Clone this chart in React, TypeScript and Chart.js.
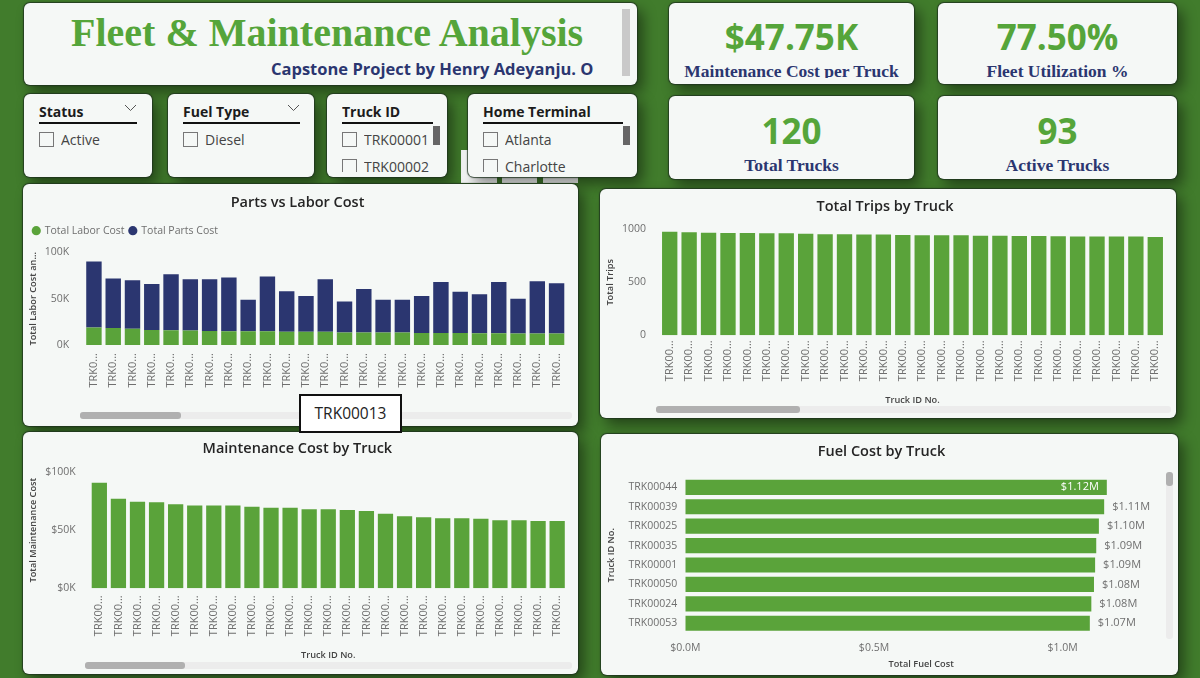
import React, { useEffect, useRef } from "react";
import { Chart, registerables } from "chart.js";

Chart.register(...registerables);

const GREEN = "#5aa33a";
const NAVY = "#2b3670";
const CARD = "#f5f8f6";
const UI = '"Open Sans", sans-serif';
const SERIF = '"Liberation Serif", serif';
const GRAY = "#6f6f6f";

const laborCost = [18.8, 18.4, 17.7, 16.3, 16, 15.6, 15.2, 15, 14.8, 14.8, 14.2, 14.2, 14.2, 13.5, 13.5, 13.5, 13.5, 13.1, 13.1, 13.1, 12.8, 12.8, 12.4, 12.4, 12.4];
const partsCost = [71.6, 53.6, 52.3, 49.7, 60.6, 55.4, 55.8, 58, 34.2, 59.2, 43.8, 38.8, 56.8, 33.5, 47.1, 35.5, 35.5, 39.9, 54.9, 44.4, 42.2, 55.2, 37.6, 56.6, 54.3];
const totalTrips = [978, 972, 968, 965, 965, 962, 962, 959, 953, 953, 950, 950, 947, 943, 943, 943, 940, 940, 937, 937, 934, 931, 931, 931, 931, 928];
const maintenanceCost = [90.8, 77, 74.5, 73.9, 72.2, 71.3, 71.3, 71.3, 70.2, 69.3, 69.3, 67.9, 67.9, 67.3, 66.5, 64.2, 61.9, 61, 60.2, 60.2, 59.9, 58.5, 58.5, 57.9, 57.9];
const fuelTrucks = ["TRK00044", "TRK00039", "TRK00025", "TRK00035", "TRK00001", "TRK00050", "TRK00024", "TRK00053"];
const fuelCost = [1.117, 1.11, 1.096, 1.089, 1.086, 1.083, 1.076, 1.072];
const partsLabels = laborCost.map(() => "TRK0...");
const tripLabels = totalTrips.map(() => "TRK00...");
const maintLabels = maintenanceCost.map(() => "TRK00...");

function yWidth(w: number) {
  return (s: any) => {
    s.width = w;
  };
}
function xHeight(h: number) {
  return (s: any) => {
    s.height = h;
  };
}

const titleOpts = (text: string, top: number, bottom: number) => ({
  display: true,
  text,
  color: "#252525",
  font: { family: UI, size: 14.5, weight: "600" as any },
  padding: { top, bottom },
});
const axisTitle = (text: string) => ({
  display: true,
  text,
  color: "#444",
  padding: 0,
  font: { family: UI, size: 9.2, weight: "600" as any },
});
const tickFont = { family: UI, size: 10.5 };
const noGrid = { display: false, drawTicks: false };

const legendGap = {
  id: "legendGap",
  beforeInit(chart: any) {
    const lg = chart.legend;
    if (!lg) return;
    const orig = lg.fit;
    lg.fit = function () {
      orig.call(lg);
      lg.height += 6.6;
    };
  },
};

const fuelLabels = {
  id: "fuelLabels",
  afterDatasetsDraw(chart: any) {
    const ctx = chart.ctx;
    const meta = chart.getDatasetMeta(0);
    ctx.save();
    ctx.font = `11px ${UI}`;
    ctx.textBaseline = "middle";
    meta.data.forEach((bar: any, i: number) => {
      const t = `$${fuelCost[i].toFixed(2)}M`;
      if (i === 0) {
        ctx.fillStyle = "#ffffff";
        ctx.textAlign = "right";
        ctx.fillText(t, bar.x - 8, bar.y);
      } else {
        ctx.fillStyle = GRAY;
        ctx.textAlign = "left";
        ctx.fillText(t, bar.x + 8, bar.y);
      }
    });
    ctx.restore();
  },
};

function useChart(build: (c: HTMLCanvasElement) => Chart) {
  const ref = useRef<HTMLCanvasElement | null>(null);
  useEffect(() => {
    const ch = build(ref.current as HTMLCanvasElement);
    return () => ch.destroy();
  }, []);
  return ref;
}

const xCat = (h: number, pad: number, title?: string) => ({
  afterFit: xHeight(h),
  grid: noGrid,
  border: { display: false },
  title: title ? axisTitle(title) : { display: false },
  ticks: { autoSkip: false, minRotation: 90, maxRotation: 90, padding: pad, color: GRAY, font: { family: UI, size: 11 } },
});
const yVal = (w: number, pad: number, max: number, step: number, title: string, cb: (v: number) => string) => ({
  afterFit: yWidth(w),
  min: 0,
  max,
  grid: noGrid,
  border: { display: false },
  title: axisTitle(title),
  ticks: { stepSize: step, padding: pad, color: GRAY, font: tickFont, callback: (v: any) => cb(Number(v)) },
});

function PartsChart() {
  const ref = useChart(
    (c) =>
      new Chart(c, {
        type: "bar",
        data: {
          labels: partsLabels,
          datasets: [
            { label: "Total Labor Cost", data: laborCost, backgroundColor: GREEN, barPercentage: 1, categoryPercentage: 0.8 },
            { label: "Total Parts Cost", data: partsCost, backgroundColor: NAVY, barPercentage: 1, categoryPercentage: 0.8 },
          ],
        },
        options: {
          responsive: false,
          animation: false,
          layout: { padding: { left: 5, right: 11, top: 0, bottom: 0 } },
          plugins: {
            title: titleOpts("Parts vs Labor Cost", 10, 9),
            tooltip: { enabled: false },
            legend: {
              display: true,
              position: "top",
              align: "start",
              labels: { usePointStyle: true, pointStyle: "circle", boxHeight: 6.5, boxWidth: 6.5, padding: 5, color: GRAY, font: { family: UI, size: 10.5 } },
            },
          },
          scales: {
            x: { ...xCat(81, 8), stacked: true },
            y: { ...yVal(56.3, 15, 100, 50, "Total Labor Cost an...", (v) => `${v}K`), stacked: true },
          },
        } as any,
        plugins: [legendGap],
      })
  );
  return <canvas ref={ref} width={555} height={242} style={canvasStyle(23, 184)} />;
}

function TripsChart() {
  const ref = useChart(
    (c) =>
      new Chart(c, {
        type: "bar",
        data: { labels: tripLabels, datasets: [{ label: "Total Trips", data: totalTrips, backgroundColor: GREEN, barPercentage: 1, categoryPercentage: 0.79 }] },
        options: {
          responsive: false,
          animation: false,
          layout: { padding: { left: 5, right: 11, top: 0, bottom: 12 } },
          plugins: { title: titleOpts("Total Trips by Truck", 9, 13.9), legend: { display: false }, tooltip: { enabled: false } },
          scales: {
            x: xCat(70.7, 5, "Truck ID No."),
            y: yVal(55, 14, 1000, 500, "Total Trips", (v) => `${v}`),
          },
        } as any,
      })
  );
  return <canvas ref={ref} width={576} height={229} style={canvasStyle(600, 189)} />;
}

function MaintChart() {
  const ref = useChart(
    (c) =>
      new Chart(c, {
        type: "bar",
        data: { labels: maintLabels, datasets: [{ label: "Total Maintenance Cost", data: maintenanceCost, backgroundColor: GREEN, barPercentage: 1, categoryPercentage: 0.8 }] },
        options: {
          responsive: false,
          animation: false,
          layout: { padding: { left: 5, right: 11.3, top: 0, bottom: 13 } },
          plugins: { title: titleOpts("Maintenance Cost by Truck", 8.5, 14.1), legend: { display: false }, tooltip: { enabled: false } },
          scales: {
            x: xCat(72.7, 7, "Truck ID No."),
            y: yVal(61.8, 14, 100, 50, "Total Maintenance Cost", (v) => `$${v}K`),
          },
        } as any,
      })
  );
  return <canvas ref={ref} width={555} height={242} style={canvasStyle(23, 432)} />;
}

function FuelChart() {
  const ref = useChart(
    (c) =>
      new Chart(c, {
        type: "bar",
        data: { labels: fuelTrucks, datasets: [{ label: "Total Fuel Cost", data: fuelCost, backgroundColor: GREEN, barPercentage: 1, categoryPercentage: 0.78 }] },
        options: {
          indexAxis: "y",
          responsive: false,
          animation: false,
          layout: { padding: { left: 5, right: 21, top: 0, bottom: 4.6 } },
          plugins: { title: titleOpts("Fuel Cost by Truck", 9, 17.2), legend: { display: false }, tooltip: { enabled: false } },
          scales: {
            x: {
              afterFit: xHeight(37.4),
              min: 0,
              max: 1.25,
              grid: noGrid,
              border: { display: false },
              title: axisTitle("Total Fuel Cost"),
              ticks: { stepSize: 0.5, includeBounds: false, maxRotation: 0, padding: 9, color: GRAY, font: tickFont, callback: (v: any) => `$${Number(v).toFixed(1)}M` },
            },
            y: {
              afterFit: yWidth(79.3),
              grid: noGrid,
              border: { display: false },
              title: axisTitle("Truck ID No."),
              ticks: { padding: 8, color: GRAY, font: tickFont },
            },
          },
        } as any,
        plugins: [fuelLabels],
      })
  );
  return <canvas ref={ref} width={577} height={241} style={canvasStyle(601, 434)} />;
}

function canvasStyle(left: number, top: number): React.CSSProperties {
  return { position: "absolute", left, top, zIndex: 2 };
}

function Box(props: { x: number; y: number; r: number; b: number; children?: React.ReactNode }) {
  const { x, y, r, b, children } = props;
  return (
    <div
      style={{
        position: "absolute",
        left: x,
        top: y,
        width: r - x,
        height: b - y,
        background: CARD,
        borderRadius: 6,
        boxShadow: "0 0 1px 1px rgba(30,50,30,.8), 6px 7px 14px rgba(0,0,0,.45)",
        overflow: "hidden",
      }}
    >
      {children}
    </div>
  );
}

function Rect(props: { x: number; y: number; r: number; b: number; c: string; z?: number; rad?: number }) {
  const { x, y, r, b, c, z, rad } = props;
  return <div style={{ position: "absolute", left: x, top: y, width: r - x, height: b - y, background: c, zIndex: z ?? 3, borderRadius: rad ?? 0 }} />;
}

function Txt(props: { x: number; y: number; w?: number; h?: number; lh?: number; size: number; font?: string; bold?: boolean; color?: string; align?: any; children: React.ReactNode }) {
  const { x, y, w, h, lh, size, font, bold, color, align, children } = props;
  return (
    <div
      style={{
        position: "absolute",
        left: x,
        top: y,
        width: w ?? 300,
        height: h ?? size * 1.3,
        lineHeight: `${lh ?? h ?? size * 1.3}px`,
        fontFamily: font ?? UI,
        fontSize: size,
        fontWeight: bold ? 700 : 400,
        color: color ?? "#444",
        textAlign: align ?? "left",
        whiteSpace: "nowrap",
        overflow: "hidden",
      }}
    >
      {children}
    </div>
  );
}

function Kpi(props: { x: number; y: number; r: number; b: number; value: string; label: string; vy: number; ly: number; clip?: number }) {
  const { x, y, r, b, value, label, vy, ly, clip } = props;
  const w = r - x;
  return (
    <Box x={x} y={y} r={r} b={b}>
      <Txt x={0} y={vy - y - 25} w={w} h={50} size={35} bold color="#55a53a" align="center">
        {value}
      </Txt>
      <Txt x={0} y={ly - y - 11} w={w} h={clip ?? 22} lh={22} size={17.5} font={SERIF} bold color={NAVY} align="center">
        {label}
      </Txt>
    </Box>
  );
}

function Check(props: { x: number; y: number }) {
  return <div style={{ position: "absolute", left: props.x, top: props.y, width: 13, height: 13, border: "1px solid #777", background: CARD }} />;
}

function Slicer(props: { x: number; y: number; r: number; b: number; head: string; under: number; chev?: number; items: string[]; thumb?: number }) {
  const { x, y, r, b, head, under, chev, items, thumb } = props;
  const hx = x + 15;
  return (
    <Box x={x} y={y} r={r} b={b}>
      <Txt x={15} y={9} size={14} bold color="#1c1c1c" w={r - x - 20}>
        {head}
      </Txt>
      <div style={{ position: "absolute", left: 15, top: 28, width: under - hx, height: 2, background: "#111" }} />
      {chev !== undefined && (
        <svg style={{ position: "absolute", left: chev - x - 6, top: 10 }} width={13} height={8}>
          <polyline points="1,1 6.5,6.5 12,1" fill="none" stroke="#555" strokeWidth={1} />
        </svg>
      )}
      <div style={{ position: "absolute", left: 0, top: 0, width: r - x, height: 78, overflow: "hidden" }}>
        {items.map((t, i) => (
          <React.Fragment key={t}>
            <Check x={15} y={38 + i * 27} />
            <Txt x={37} y={37 + i * 27} size={14} w={r - x - 45}>
              {t}
            </Txt>
          </React.Fragment>
        ))}
      </div>
      {thumb !== undefined && <Rect x={thumb - x} y={32} r={thumb - x + 7} b={51} c="#666" />}
    </Box>
  );
}

export default function App() {
  return (
    <div style={{ position: "fixed", left: 0, top: 0, width: 1200, height: 678, background: "#417c2c", overflow: "hidden" }}>
      {/* header */}
      <Box x={24} y={3} r={637} b={85}>
        <Txt x={47} y={5} w={530} h={50} size={40} font={SERIF} bold color="#55a53a">
          Fleet &amp; Maintenance Analysis
        </Txt>
        <Txt x={247} y={54} w={350} h={24} size={16.5} bold color={NAVY}>
          Capstone Project by Henry Adeyanju. O
        </Txt>
        <Rect x={598} y={6} r={606} b={73} c="#c9c9c9" />
      </Box>

      {/* slicers */}
      <Rect x={461} y={150} r={497} b={183} c="#fafcfb" z={0} />
      <Rect x={502} y={150} r={537} b={183} c="#fafcfb" z={0} />
      <Rect x={543} y={150} r={578} b={183} c="#fafcfb" z={0} />
      <Slicer x={24} y={94} r={152} b={177} head="Status" under={137} chev={130} items={["Active"]} />
      <Slicer x={168} y={94} r={314} b={177} head="Fuel Type" under={300} chev={293} items={["Diesel"]} />
      <Slicer x={327} y={94} r={447} b={177} head="Truck ID" under={433} items={["TRK00001", "TRK00002"]} thumb={433} />
      <Slicer x={468} y={94} r={637} b={177} head="Home Terminal" under={623} items={["Atlanta", "Charlotte"]} thumb={623} />

      {/* KPI */}
      <Kpi x={669} y={3} r={914} b={84} value="$47.75K" label="Maintenance Cost per Truck" vy={37} ly={71} clip={18} />
      <Kpi x={938} y={3} r={1177} b={84} value="77.50%" label="Fleet Utilization %" vy={37} ly={71} clip={18} />
      <Kpi x={669} y={96} r={914} b={179} value="120" label="Total Trucks" vy={131} ly={165} />
      <Kpi x={938} y={96} r={1177} b={179} value="93" label="Active Trucks" vy={131} ly={165} />

      {/* chart cards */}
      <Box x={23} y={184} r={578} b={426} />
      <Box x={600} y={189} r={1176} b={418} />
      <Box x={23} y={432} r={578} b={674} />
      <Box x={601} y={434} r={1178} b={675} />

      <PartsChart />
      <TripsChart />
      <MaintChart />
      <FuelChart />

      {/* scrollbars */}
      <Rect x={80} y={412} r={572} b={419} c="#ececec" rad={3} />
      <Rect x={80} y={412} r={181} b={419} c="#b0b0b0" rad={3} />
      <Rect x={656} y={406} r={1171} b={413} c="#ececec" rad={3} />
      <Rect x={656} y={406} r={800} b={413} c="#b0b0b0" rad={3} />
      <Rect x={85} y={662} r={572} b={669} c="#ececec" rad={3} />
      <Rect x={85} y={662} r={185} b={669} c="#b0b0b0" rad={3} />
      <Rect x={1166} y={473} r={1173} b={639} c="#ececec" rad={3} />
      <Rect x={1166} y={472} r={1173} b={486} c="#b0b0b0" rad={3} />

      {/* hover tooltip */}
      <div
        style={{
          position: "absolute",
          left: 299,
          top: 394,
          width: 99,
          height: 35,
          border: "2px solid #111",
          background: "#fff",
          zIndex: 5,
          textAlign: "center",
          lineHeight: "35px",
          fontFamily: UI,
          fontSize: 15.5,
          color: "#222",
        }}
      >
        TRK00013
      </div>
    </div>
  );
}
